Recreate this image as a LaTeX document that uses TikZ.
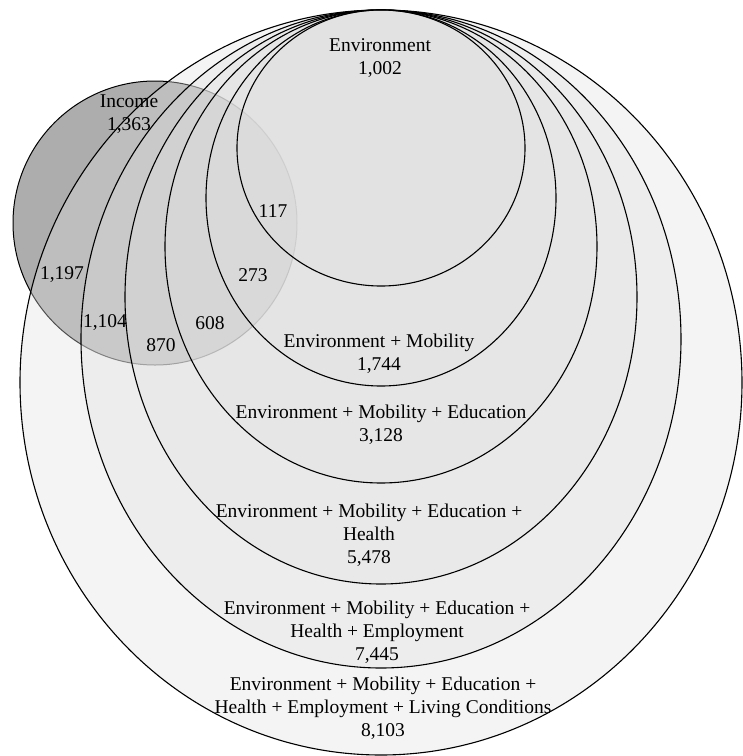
\documentclass[tikz,border=0pt]{standalone}
\usepackage{fontspec}
\setmainfont{Liberation Serif}

\tikzset{
  zone/.style={draw=black, line width=1.1pt, fill=black!12, fill opacity=0.35, draw opacity=1},
  income/.style={draw=black, line width=1pt, fill=black!32},
  lbl/.style={align=center, inner sep=0pt, font=\fontsize{19.5}{23}\selectfont}
}

\begin{document}
\begin{tikzpicture}[x=1pt, y=-1pt]
  \useasboundingbox (0,0) rectangle (743,756);
  % income set lies under the nested sets
  \draw[income] (155,223) circle [radius=142pt];
  \foreach \cy/\rx/\ry in {382.5/361/372.5, 339/300/329, 297/256/287,
                           246.5/216/236.5, 198/175/188, 148/144/138}
    \draw[zone] (381,\cy) ellipse [x radius=\rx pt, y radius=\ry pt];

  \node[lbl] (env)  at (380,58)  {Environment\\1,002};
  \node[lbl] (inc)  at (129,114) {Income\\1,363};
  \node[lbl] (n117)  at (273,211) {117};
  \node[lbl] (n1197) at (62,275)  {1,197};
  \node[lbl] (n273)  at (253,275) {273};
  \node[lbl] (n1104) at (105,323) {1,104};
  \node[lbl] (n608)  at (210,323) {608};
  \node[lbl] (n870)  at (161,345) {870};
  \node[lbl] (envmob)    at (379,354) {Environment + Mobility\\1,744};
  \node[lbl] (envmobedu) at (381,425) {Environment + Mobility + Education\\3,128};
  \node[lbl] (health) at (369,535) {Environment + Mobility + Education +\\Health\\5,478};
  \node[lbl] (employ) at (377,632) {Environment + Mobility + Education +\\Health + Employment\\7,445};
  \node[lbl] (living) at (383,708) {Environment + Mobility + Education +\\Health + Employment + Living Conditions\\8,103};
\end{tikzpicture}
\end{document}
